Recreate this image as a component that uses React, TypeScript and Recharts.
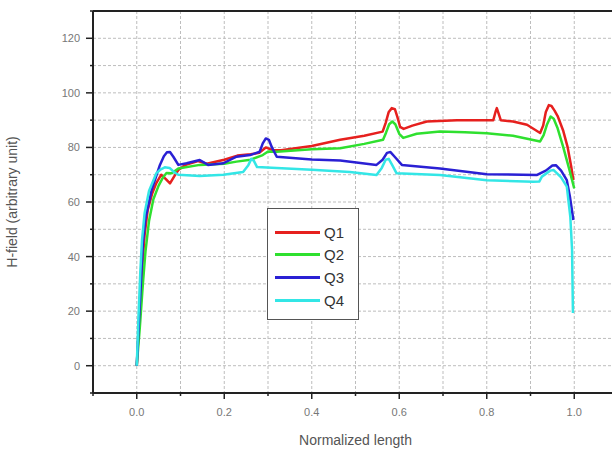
import {
  CartesianGrid,
  Legend,
  Line,
  LineChart,
  ReferenceLine,
  XAxis,
  YAxis,
} from "recharts";

// points as [normalized length, H-field]
const q1 = [
  [0, 0], [0.006, 18], [0.012, 35], [0.018, 48], [0.025, 57], [0.035, 63],
  [0.045, 67], [0.056, 70], [0.066, 68.5], [0.076, 66.8], [0.086, 69.5],
  [0.095, 71.7], [0.11, 73.5], [0.14, 75], [0.16, 74], [0.2, 75.5],
  [0.23, 77], [0.26, 77.5], [0.28, 78], [0.295, 80], [0.31, 79], [0.33, 79],
  [0.4, 80.5], [0.465, 82.8], [0.52, 84.3], [0.562, 85.8], [0.569, 89],
  [0.576, 93], [0.583, 94.4], [0.59, 94], [0.596, 91], [0.602, 87.5],
  [0.61, 86.8], [0.63, 88], [0.663, 89.5], [0.732, 90], [0.815, 90],
  [0.82, 93], [0.823, 94.4], [0.827, 92.5], [0.832, 90], [0.86, 89.5],
  [0.892, 88.3], [0.922, 85.3], [0.929, 88], [0.935, 93], [0.942, 95.5],
  [0.948, 95.2], [0.955, 93.5], [0.962, 91.5], [0.975, 86], [0.985, 80],
  [0.993, 73], [0.998, 68],
];

const q2 = [
  [0, 0], [0.007, 14], [0.014, 30], [0.02, 42], [0.028, 53], [0.038, 61],
  [0.05, 66], [0.06, 69], [0.068, 70.6], [0.08, 70.5], [0.095, 72.3],
  [0.144, 73.6], [0.2, 74], [0.228, 74.8], [0.26, 75.5], [0.288, 77.2],
  [0.3, 78.5], [0.32, 78.4], [0.4, 79.3], [0.465, 79.7], [0.52, 81.3],
  [0.563, 82.8], [0.57, 85.5], [0.577, 88.5], [0.584, 89.5], [0.591, 88.5],
  [0.6, 85], [0.609, 83.5], [0.64, 85], [0.693, 85.8], [0.75, 85.6],
  [0.8, 85.2], [0.86, 84.3], [0.922, 82.2], [0.93, 84.5], [0.938, 88.5],
  [0.946, 91.3], [0.953, 90.5], [0.962, 87], [0.975, 80], [0.989, 71.8],
  [1.0, 65],
];

const q3 = [
  [0, 0], [0.005, 16], [0.01, 32], [0.014, 45], [0.02, 54], [0.034, 64.4],
  [0.053, 73.6], [0.062, 76.8], [0.069, 78.2], [0.076, 78.3], [0.084, 76.5],
  [0.095, 73.6], [0.114, 74.2], [0.144, 75.4], [0.163, 73.6], [0.198, 74.2],
  [0.228, 76.6], [0.259, 77.2], [0.281, 78.4], [0.288, 81.5], [0.295, 83.3],
  [0.302, 82.8], [0.309, 80], [0.32, 76.6], [0.4, 75.6], [0.465, 75.2],
  [0.548, 73.6], [0.562, 75.5], [0.572, 78], [0.58, 78.3], [0.59, 76.5],
  [0.606, 73.6], [0.693, 72.3], [0.8, 70.2], [0.915, 69.9], [0.935, 71.5],
  [0.95, 73.4], [0.958, 73.5], [0.97, 71.5], [0.983, 68], [0.99, 62],
  [0.998, 53.4],
];

const q4 = [
  [0, 0], [0.004, 18], [0.008, 34], [0.012, 46], [0.018, 56], [0.028, 64],
  [0.045, 70.6], [0.055, 72], [0.064, 72.7], [0.075, 72.5], [0.085, 71],
  [0.095, 70], [0.144, 69.5], [0.198, 70], [0.243, 71], [0.255, 73.5],
  [0.262, 75.8], [0.268, 75], [0.275, 72.8], [0.32, 72.5], [0.4, 71.8],
  [0.487, 71], [0.548, 69.9], [0.56, 72.5], [0.569, 75.5], [0.576, 75.8],
  [0.584, 73.5], [0.594, 70.5], [0.693, 69.9], [0.8, 68], [0.906, 67.4],
  [0.92, 67.5], [0.926, 69.3], [0.945, 71.5], [0.953, 71.7], [0.97, 69],
  [0.983, 65.6], [0.991, 54.6], [0.995, 42.4], [0.997, 19.3],
];

const xTicks = [-0.1, 0, 0.1, 0.2, 0.3, 0.4, 0.5, 0.6, 0.7, 0.8, 0.9, 1.0, 1.1];
const xLabels = ["0.0", "0.2", "0.4", "0.6", "0.8", "1.0"];
const yTicks = [-10, 0, 10, 20, 30, 40, 50, 60, 70, 80, 90, 100, 110, 120, 130];
const yLabels = ["0", "20", "40", "60", "80", "100", "120"];

const series = [
  { name: "Q1", color: "#e6201e", points: q1 },
  { name: "Q2", color: "#2fe02f", points: q2 },
  { name: "Q3", color: "#2a20d4", points: q3 },
  { name: "Q4", color: "#33e6e6", points: q4 },
];

const FONT = "'Liberation Sans', Arial, sans-serif";

function XTick(props: any) {
  const { x, y, payload } = props;
  const label = payload.value < 0 ? "" : payload.value.toFixed(1);
  const major = xLabels.includes(label);
  return (
    <g>
      <line x1={x} x2={x} y1={y - 1} y2={y + (major ? 6 : 3)} stroke="#222" strokeWidth={1.5} />
      {major && (
        <text x={x} y={y + 23} textAnchor="middle" fontSize={11} fill="#777" fontFamily={FONT}>
          {label}
        </text>
      )}
    </g>
  );
}

function YTick(props: any) {
  const { x, y, payload } = props;
  const label = String(payload.value);
  const major = yLabels.includes(label);
  return (
    <g>
      <line x1={x - (major ? 7 : 3)} x2={x + 1} y1={y} y2={y} stroke="#222" strokeWidth={1.5} />
      {major && (
        <text x={x - 13} y={y + 4} textAnchor="end" fontSize={11} fill="#777" fontFamily={FONT}>
          {label}
        </text>
      )}
    </g>
  );
}

function LegendBox() {
  return (
    <div
      style={{
        width: 92,
        height: 112,
        boxSizing: "border-box",
        border: "1px solid #555",
        background: "#fff",
        position: "relative",
        fontFamily: FONT,
      }}
    >
      {series.map((s, i) => (
        <div key={s.name} style={{ position: "absolute", left: 7, top: 13 + i * 22.7, height: 20, display: "flex", alignItems: "center" }}>
          <div style={{ width: 45, height: 3, background: s.color }} />
          <span style={{ marginLeft: 4, fontSize: 15, color: "#333" }}>{s.name}</span>
        </div>
      ))}
    </div>
  );
}

export default function App() {
  return (
    <div style={{ position: "absolute", left: 0, top: 0, width: 612, height: 460, overflow: "hidden", background: "#fff" }}>
      <LineChart width={640} height={460} margin={{ top: 11, right: 22, left: 0, bottom: 0 }}>
        <CartesianGrid stroke="#bdbdbd" strokeDasharray="3 2" />
        <XAxis
          dataKey="x"
          type="number"
          domain={[-0.1, 1.1]}
          ticks={xTicks}
          interval={0}
          height={67}
          tickSize={0}
          tickMargin={0}
          tickLine={false}
          tick={<XTick />}
          axisLine={{ stroke: "#222", strokeWidth: 2 }}
          label={{ value: "Normalized length", position: "insideBottom", offset: 15, fontSize: 14, fill: "#555", fontFamily: FONT }}
        />
        <YAxis
          type="number"
          domain={[-10, 130]}
          ticks={yTicks}
          interval={0}
          width={93}
          tickSize={0}
          tickMargin={0}
          tickLine={false}
          tick={<YTick />}
          axisLine={{ stroke: "#222", strokeWidth: 2 }}
          label={{ value: "H-field (arbitrary unit)", angle: -90, position: "insideLeft", offset: 12, fontSize: 14, fill: "#555", fontFamily: FONT, style: { textAnchor: "middle" } }}
        />
        <ReferenceLine y={130} stroke="#222" strokeWidth={2} />
        {series.map((s) => (
          <Line
            key={s.name}
            name={s.name}
            data={s.points.map(([x, y]) => ({ x, y }))}
            dataKey="y"
            type="linear"
            stroke={s.color}
            strokeWidth={2.5}
            strokeLinejoin="round"
            dot={false}
            isAnimationActive={false}
          />
        ))}
        <Legend
          layout="vertical"
          align="center"
          verticalAlign="middle"
          content={() => <LegendBox />}
          wrapperStyle={{ position: "absolute", left: 267, top: 208, width: 92, height: 112 }}
        />
      </LineChart>
    </div>
  );
}
